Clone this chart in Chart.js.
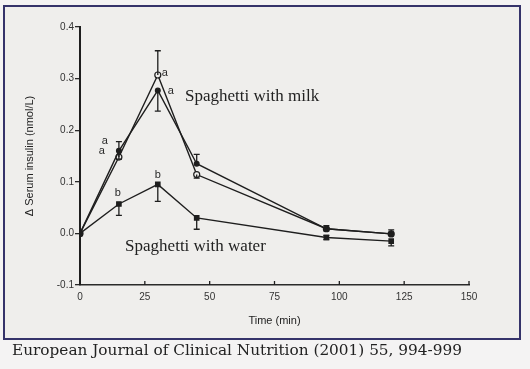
<!DOCTYPE html>
<html>
<head>
<meta charset="utf-8">
<script src="https://cdn.jsdelivr.net/npm/chart.js@4.4.0/dist/chart.umd.min.js"></script>
<style>
    html, body { margin: 0; padding: 0; background: #f4f3f3; }
    #frame {
        position: absolute; left: 3px; top: 5px; width: 514px; height: 331px;
        border: 2px solid #35336a; background: #efeeec;
    }
    #wrap { position: absolute; left: 0; top: 0; width: 530px; height: 369px; }
    #caption {
        position: absolute; left: 12px; top: 341px;
        font-family: "DejaVu Serif", serif; font-size: 15.3px; color: #222;
        white-space: nowrap;
    }
</style>
</head>
<body>
<div id="frame"></div>
<div id="wrap"><canvas id="insulinChart" width="530" height="369"></canvas></div>
<div id="caption">European Journal of Clinical Nutrition (2001) 55, 994-999</div>
<script>
// time points (min)
const times = [0, 15, 30, 45, 95, 120];

// spaghetti with water (filled squares)
const water = [0, 0.057, 0.095, 0.030, -0.008, -0.015];
const waterErrUp = [0, 0, 0, 0, 0.004, 0];
const waterErrDown = [0, 0.022, 0.033, 0.022, 0.004, 0.009];

// spaghetti with milk (filled circles)
const milkFilled = [0, 0.160, 0.277, 0.135, 0.009, -0.001];
const milkFilledErrUp = [0, 0, 0, 0.018, 0, 0];
const milkFilledErrDown = [0, 0.016, 0.040, 0, 0.004, 0];

// spaghetti with milk (open circles)
const milkOpen = [0, 0.148, 0.307, 0.114, 0.009, -0.001];
const milkOpenErrUp = [0, 0.030, 0.047, 0, 0.006, 0.008];
const milkOpenErrDown = [0, 0, 0, 0.007, 0, 0];

// significance letters per series
const waterLetters = ["", "b", "b", "", "", ""];
const milkFilledLetters = ["", "a", "a", "", "", ""];
const milkOpenLetters = ["", "a", "a", "", "", ""];

const xTicks = [0, 25, 50, 75, 100, 125, 150];

const ink = "#1e1e1e";

function toPoints(values) {
    return times.map((t, i) => ({ x: t, y: values[i] }));
}

// error bars, letters, inside x ticks and series labels
const extrasPlugin = {
    id: "extras",
    afterDatasetsDraw(chart) {
        const ctx = chart.ctx;
        const xs = chart.scales.x;
        const ys = chart.scales.y;
        ctx.save();
        ctx.strokeStyle = ink;
        ctx.lineWidth = 1.3;

        // x axis tick marks pointing up
        xTicks.forEach((t) => {
            const px = xs.getPixelForValue(t);
            ctx.beginPath();
            ctx.moveTo(px, ys.bottom);
            ctx.lineTo(px, ys.bottom - 4);
            ctx.stroke();
        });

        chart.data.datasets.forEach((ds) => {
            ds.data.forEach((p, i) => {
                const px = xs.getPixelForValue(p.x);
                const up = ds.errUp[i];
                const down = ds.errDown[i];
                [p.y + up, p.y - down].forEach((end, k) => {
                    if ((k === 0 ? up : down) === 0) return;
                    const py0 = ys.getPixelForValue(p.y);
                    const py1 = ys.getPixelForValue(end);
                    ctx.beginPath();
                    ctx.moveTo(px, py0);
                    ctx.lineTo(px, py1);
                    ctx.moveTo(px - 3, py1);
                    ctx.lineTo(px + 3, py1);
                    ctx.stroke();
                });
            });
        });

        // letters
        ctx.fillStyle = "#2a2a2a";
        ctx.font = "11px 'Liberation Sans', Arial, sans-serif";
        ctx.textAlign = "center";
        ctx.textBaseline = "middle";
        const letterOffsets = [
            { ds: 0, dx: [0, -1, 0, 0, 0, 0], dy: [0, -11, -9, 0, 0, 0] },
            { ds: 1, dx: [0, -14, 13, 0, 0, 0], dy: [0, -10, 1, 0, 0, 0] },
            { ds: 2, dx: [0, -17, 7, 0, 0, 0], dy: [0, -6, -2, 0, 0, 0] },
        ];
        letterOffsets.forEach((o) => {
            const ds = chart.data.datasets[o.ds];
            ds.data.forEach((p, i) => {
                const txt = ds.letters[i];
                if (!txt) return;
                ctx.fillText(
                    txt,
                    xs.getPixelForValue(p.x) + o.dx[i],
                    ys.getPixelForValue(p.y) + o.dy[i]
                );
            });
        });

        // series labels
        ctx.fillStyle = "#222";
        ctx.font = "17px 'Liberation Serif', 'Times New Roman', serif";
        ctx.textAlign = "left";
        ctx.fillText("Spaghetti with milk", xs.getPixelForValue(40.5), ys.getPixelForValue(0.266));
        ctx.fillText("Spaghetti with water", xs.getPixelForValue(17.4), ys.getPixelForValue(-0.025));
        ctx.restore();
    },
};

const ctx = document.getElementById("insulinChart").getContext("2d");
const insulinChart = new Chart(ctx, {
    type: "line",
    data: {
        datasets: [
            {
                label: "Spaghetti with water",
                data: toPoints(water),
                errUp: waterErrUp,
                errDown: waterErrDown,
                letters: waterLetters,
                borderColor: ink,
                borderWidth: 1.4,
                pointStyle: "rect",
                pointRadius: 3,
                pointBackgroundColor: ink,
                pointBorderColor: ink,
                tension: 0,
            },
            {
                label: "Spaghetti with milk (filled)",
                data: toPoints(milkFilled),
                errUp: milkFilledErrUp,
                errDown: milkFilledErrDown,
                letters: milkFilledLetters,
                borderColor: ink,
                borderWidth: 1.4,
                pointStyle: "circle",
                pointRadius: 2.3,
                pointBackgroundColor: ink,
                pointBorderColor: ink,
                tension: 0,
            },
            {
                label: "Spaghetti with milk (open)",
                data: toPoints(milkOpen),
                errUp: milkOpenErrUp,
                errDown: milkOpenErrDown,
                letters: milkOpenLetters,
                borderColor: ink,
                borderWidth: 1.4,
                pointStyle: "circle",
                pointRadius: 3,
                pointBorderWidth: 1.2,
                pointBackgroundColor: "#efeeec",
                pointBorderColor: ink,
                tension: 0,
            },
        ],
    },
    options: {
        responsive: false,
        animation: false,
        layout: {
            padding: { left: 0, top: 27, right: 61, bottom: 39 },
        },
        scales: {
            x: {
                type: "linear",
                min: 0,
                max: 150,
                afterFit(scale) {
                    scale.height = 45;
                    scale.paddingLeft = 0;
                    scale.paddingRight = 0;
                },
                afterBuildTicks(scale) {
                    scale.ticks = xTicks.map((v) => ({ value: v }));
                },
                grid: { display: true, drawOnChartArea: false, drawTicks: false },
                border: { color: "#2a2a2a", width: 1.5 },
                ticks: {
                    padding: 6,
                    color: "#333",
                    font: { family: "'Liberation Sans', Arial, sans-serif", size: 10 },
                },
                title: {
                    display: true,
                    text: "Time (min)",
                    color: "#222",
                    padding: { top: 0, bottom: 2 },
                    font: { family: "'Liberation Sans', Arial, sans-serif", size: 11 },
                },
            },
            y: {
                min: -0.1,
                max: 0.4,
                afterFit(scale) {
                    scale.width = 80;
                    scale.paddingTop = 0;
                    scale.paddingBottom = 0;
                },
                ticks: {
                    stepSize: 0.1,
                    padding: 1,
                    color: "#333",
                    font: { family: "'Liberation Sans', Arial, sans-serif", size: 10 },
                    callback: (v) => v.toFixed(1),
                },
                grid: {
                    drawOnChartArea: false,
                    drawTicks: true,
                    tickLength: 5,
                    color: "#2a2a2a",
                    lineWidth: 1.3,
                },
                border: { color: "#1e1e1e", width: 2 },
                title: {
                    display: true,
                    text: "\u0394 Serum insulin (nmol/L)",
                    color: "#222",
                    padding: { top: 23, bottom: 0 },
                    font: { family: "'Liberation Sans', Arial, sans-serif", size: 11 },
                },
            },
        },
        plugins: {
            legend: { display: false },
            tooltip: { enabled: false },
        },
    },
    plugins: [extrasPlugin],
});
</script>
</body>
</html>
